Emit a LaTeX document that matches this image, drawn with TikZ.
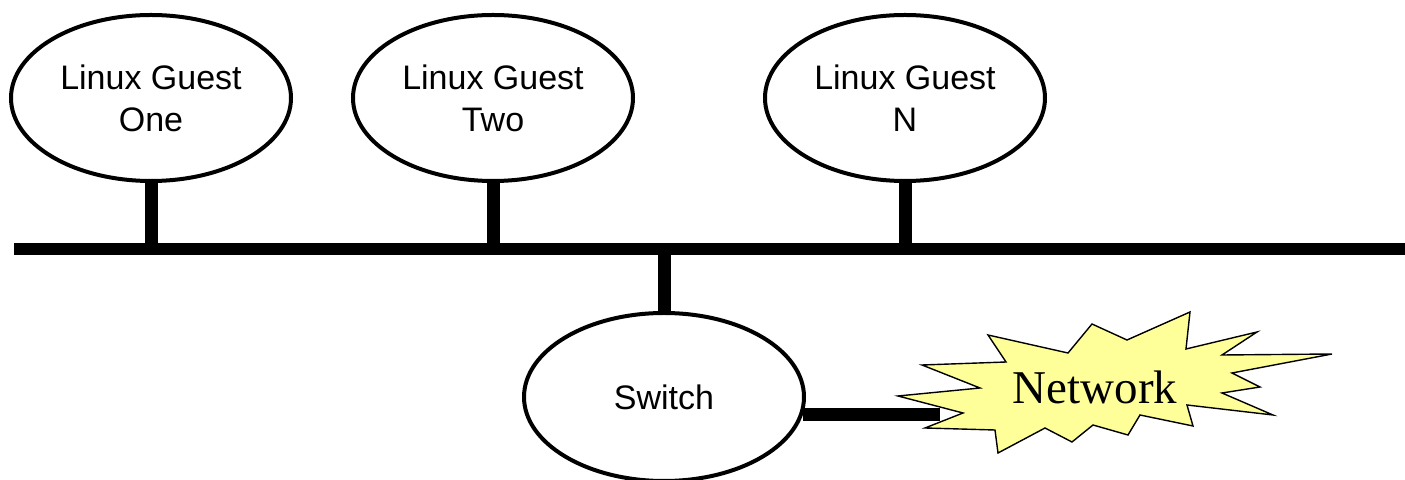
\documentclass[tikz,border=0pt]{standalone}
\usepackage{fontspec}
\setmainfont{Liberation Sans}
\newfontfamily\timesfont{Liberation Serif}
\usetikzlibrary{shapes.geometric}
\definecolor{burst}{RGB}{255,255,153}
\begin{document}
\begin{tikzpicture}[x=0.5pt, y=-0.5pt,
  guest/.style={draw, ellipse, line width=2pt, minimum width=140pt, minimum height=83pt,
    inner sep=0pt, align=center, font=\fontsize{17}{21}\selectfont},
  wire/.style={line width=6.5pt}]
\useasboundingbox (0,0) rectangle (1405,480);
\node[guest] (g1) at (151,98) {Linux Guest\\One};
\node[guest] (g2) at (493,98) {Linux Guest\\Two};
\node[guest] (gn) at (905,98) {Linux Guest\\N};
\node[guest, minimum height=84pt] (switch) at (664,397) {Switch};
\coordinate (busl) at (14,249);
\coordinate (busr) at (1405,249);
\draw[wire, line width=6pt] (busl) -- (busr);
\foreach \g in {g1,g2,gn}{
\draw[wire] (\g.south) -- (\g.south |- busl);
};
\draw[wire] (switch.north) -- (switch.north |- busl);
% network burst
\draw[fill=burst, line width=0.7pt, line join=miter] (898,396) -- (980,388) -- (922,365) -- (1006,362)
  -- (988,335) -- (1068,353) -- (1092,324) -- (1127,340) -- (1190,312) -- (1186,349)
  -- (1257,332) -- (1222,355) -- (1332,354) -- (1232,373) -- (1260,387) -- (1222,393)
  -- (1273,415) -- (1187,405) -- (1193,426) -- (1140,415) -- (1128,435) -- (1093,425)
  -- (1072,442) -- (1045,428) -- (998,453) -- (995,430) -- (925,428) -- (963,413) -- cycle;
\node[font=\timesfont\fontsize{23.5}{28}\selectfont] (net) at (1095,387) {Network};
\coordinate (netin) at (940,414);
\draw[wire] (switch.-7) -- (switch.-7 -| netin);
\end{tikzpicture}
\end{document}
